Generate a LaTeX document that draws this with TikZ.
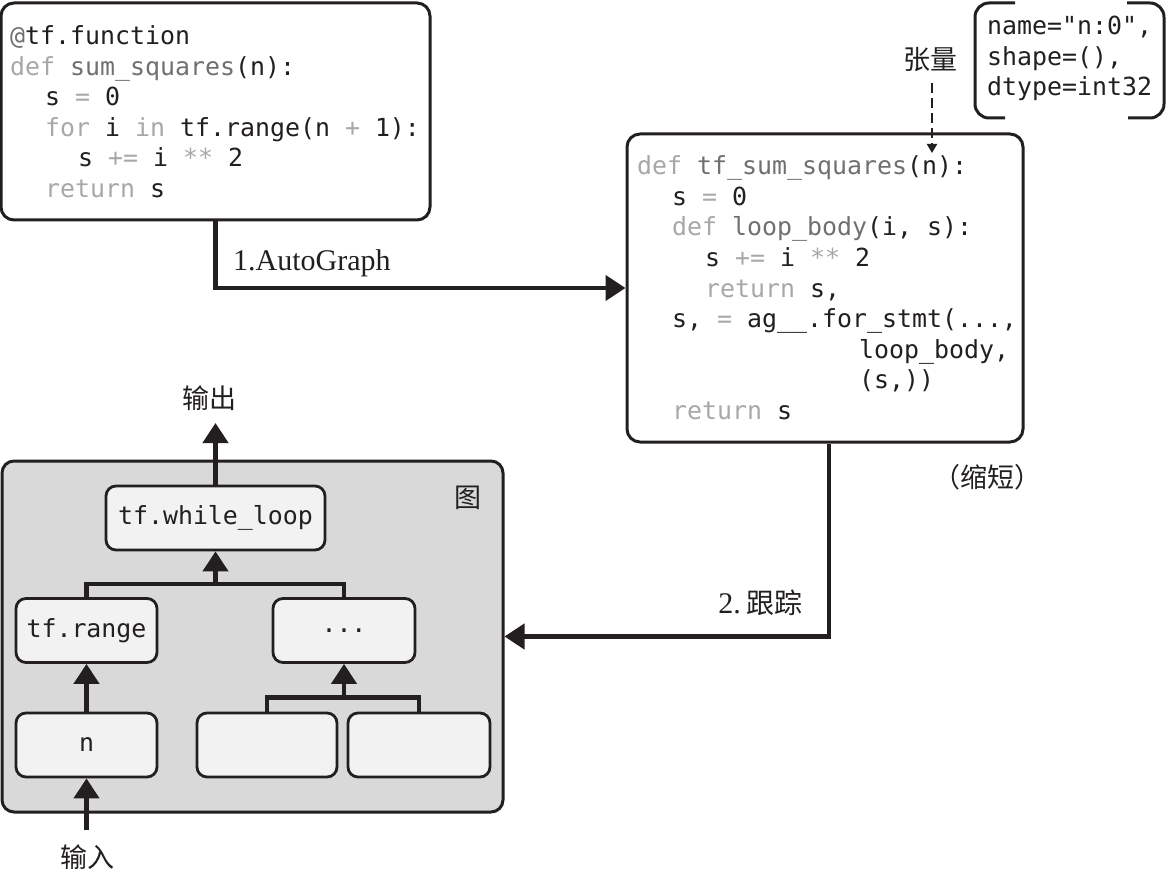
\documentclass[tikz,border=0pt]{standalone}
\usepackage{fontspec}
\setmainfont{Liberation Serif}
\newfontfamily\cjk{Noto Sans CJK SC}
\newfontfamily\code{DejaVu Sans Mono}
\usetikzlibrary{arrows.meta}
\definecolor{ink}{HTML}{231F20}
\definecolor{kwgray}{HTML}{A8A8A8}
\definecolor{fngray}{HTML}{707070}
\definecolor{graphfill}{HTML}{D9D9D9}
\definecolor{nodefill}{HTML}{F2F2F2}
\newcommand\kw[1]{\textcolor{kwgray}{#1}}
\newcommand\fnc[1]{\textcolor{fngray}{#1}}
\begin{document}
\begin{tikzpicture}[x=1pt,y=1pt,
 codeline/.style={anchor=base west, inner sep=0, text=ink, font=\code\fontsize{24.9}{30}\selectfont},
 codebox/.style={draw=ink, line width=3pt, rounded corners=13pt, fill=white, inner sep=0},
 gnode/.style={draw=ink, line width=2.8pt, rounded corners=10pt, fill=nodefill, text=ink, font=\code\fontsize{24.9}{30}\selectfont, inner sep=0, minimum height=64pt},
 conn/.style={draw=ink, line width=4.5pt, -{Triangle[width=25pt,length=20pt]}},
 link/.style={draw=ink, line width=4.5pt},
 cjklabel/.style={text=ink, inner sep=0, font=\cjk\fontsize{27}{30}\selectfont},
 serlabel/.style={text=ink, inner sep=0, font=\fontsize{30}{30}\selectfont},
]
\useasboundingbox (0,0) rectangle (1167,-869);

% ---------- boxes ----------
\node[codebox, minimum width=429pt, minimum height=217pt] (b1) at (215.5,-111.5) {};
\node[codebox, minimum width=396pt, minimum height=308pt] (b2) at (825,-288) {};

% tensor bracket box
\draw[ink, line width=3pt, rounded corners=14pt] (1015,-3) -- (975,-3) -- (975,-118) -- (1005,-118);
\draw[ink, line width=3pt, rounded corners=14pt] (1127,-3) -- (1164,-3) -- (1164,-118) -- (1128,-118);

% ---------- code box 1 ----------
\node[codeline] (a1) at (10,-45) {\fnc{@}tf.function};
\node[codeline] (a2) at (10,-75.5) {\kw{def} \fnc{sum\_squares}(n):};
\node[codeline] (a3) at (45,-106) {s \kw{=} 0};
\node[codeline] (a4) at (45,-136.5) {\kw{for} i \kw{in} tf.range(n \kw{+} 1):};
\node[codeline] (a5) at (78,-167) {s \kw{+=} i \kw{**} 2};
\node[codeline] (a6) at (45,-197) {\kw{return} s};

% ---------- code box 2 ----------
\node[codeline] (c1) at (637,-175) {\kw{def} \fnc{tf\_sum\_squares}(n):};
\node[codeline] (c2) at (672,-205.5) {s \kw{=} 0};
\node[codeline] (c3) at (672,-236) {\kw{def} \fnc{loop\_body}(i, s):};
\node[codeline] (c4) at (705,-266.5) {s \kw{+=} i \kw{**} 2};
\node[codeline] (c5) at (705,-297) {\kw{return} s,};
\node[codeline] (c6) at (672,-327.5) {s, \kw{=} ag\_\_.for\_stmt(...,};
\node[codeline] (c7) at (859,-358) {loop\_body,};
\node[codeline] (c8) at (859,-388.5) {(s,))};
\node[codeline] (c9) at (672,-419) {\kw{return} s};

% ---------- tensor text ----------
\node[codeline] (t1) at (987,-35) {name="n:0",};
\node[codeline] (t2) at (987,-66) {shape=(),};
\node[codeline] (t3) at (987,-96) {dtype=int32};

\node[cjklabel] (zl) at (930,-60) {张量};
\coordinate (ntip) at (932,-153);
\draw[ink, line width=2pt, dash pattern=on 10pt off 5pt, shorten <=11pt, -{Triangle[width=10pt,length=9pt]}] (zl.south -| ntip) -- (ntip);

\node[cjklabel] (short) at (987,-477) {（缩短）};

% ---------- graph ----------
\node[draw=ink, line width=3pt, fill=graphfill, rounded corners=12pt, minimum width=501pt, minimum height=351pt, inner sep=0] (g) at (252.5,-636.5) {};
\node[cjklabel] (glabel) at (468,-498) {图};

\node[gnode, minimum width=219pt] (wl) at (215.5,-518) {tf.while\_loop};
\node[gnode, minimum width=141pt] (rg) at (86.5,-630.5) {tf.range};
\node[gnode, minimum width=142pt] (dots) at (344,-630.5) {...};
\node[gnode, minimum width=141pt] (n) at (86.5,-745) {n};
\node[gnode, minimum width=140pt] (e1) at (267,-745) {};
\node[gnode, minimum width=142pt] (e2) at (419,-745) {};

\coordinate (out) at (215.5,-423);
\draw[conn] (wl.north) -- (out);
\node[cjklabel] (outl) at (209,-398) {输出};

\draw[link] (rg.north) -- ++(0,13) -| (dots.north);
\draw[conn] (wl.south |- 0,-585) -- (wl.south);
\draw[conn] (n.north) -- (rg.south);
\draw[link] (e1.north) -- ++(0,14) -| (e2.north);
\draw[conn] (dots.south |- 0,-699) -- (dots.south);

\coordinate (in) at (86.5,-830);
\draw[conn] (in) -- (n.south);
\node[cjklabel] (inl) at (87,-857) {输入};

% ---------- main connectors ----------
\draw[conn] (b1.south) |- (b2.west);
\node[serlabel, anchor=base west] (l1) at (233,-270) {1.AutoGraph};

\draw[conn] ([xshift=4pt]b2.south) |- (g.east);
\node[serlabel, anchor=base east] (l2) at (803,-613) {2.\hspace{6pt}{\cjk\fontsize{28}{30}\selectfont 跟踪}};
\end{tikzpicture}
\end{document}
